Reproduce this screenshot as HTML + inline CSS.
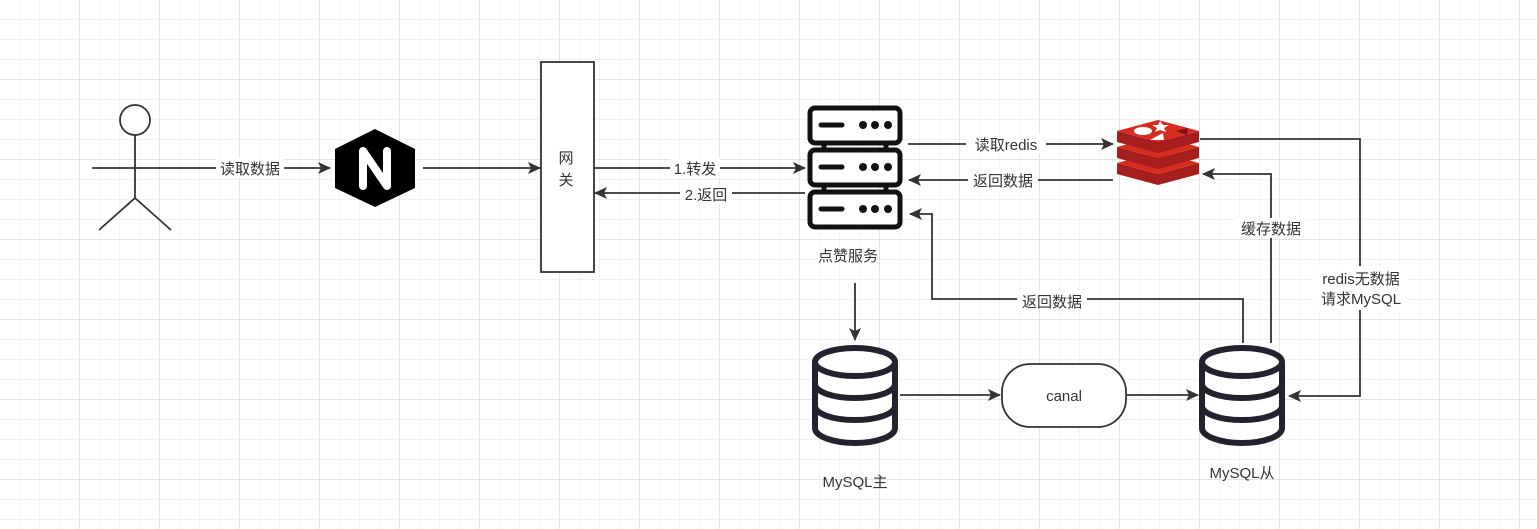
<!DOCTYPE html>
<html><head><meta charset="utf-8"><style>
html,body{margin:0;padding:0;width:1537px;height:529px;overflow:hidden;background:#fff}
svg{display:block}
text{font-family:"Liberation Sans","Noto Sans CJK SC",sans-serif;font-size:15px;fill:#333}
</style></head><body>
<svg width="1537" height="529" viewBox="0 0 1537 529">
<defs>
<pattern id="g" width="20" height="20" patternUnits="userSpaceOnUse"><path d="M20 0V20H0" fill="none" stroke="#e6e6e6" stroke-width="1"/></pattern>
<pattern id="G" width="80" height="80" patternUnits="userSpaceOnUse" x="0" y="0"><rect width="80" height="80" fill="url(#g)"/><path d="M80 0V80H0" fill="none" stroke="#dcdcdc" stroke-width="1.5"/></pattern>
<marker id="a" markerWidth="13" markerHeight="12" refX="12" refY="6" orient="auto" markerUnits="userSpaceOnUse"><path d="M0,0 L13,6 L0,12 L3,6z" fill="#333"/></marker>
</defs>
<rect width="1537" height="529" fill="url(#G)"/>
<g stroke="#333" stroke-width="1.8" fill="none">
<circle cx="135" cy="120" r="15" fill="#fff"/>
<path d="M135 135V198M92 168H180M135 198L99 230M135 198L171 230"/>
<path d="M180 168H330" marker-end="url(#a)"/>
<path d="M423 168H540" marker-end="url(#a)"/>
<rect x="541" y="62" width="53" height="210" fill="#fff"/>
<path d="M594 168H805" marker-end="url(#a)"/>
<path d="M805 193H595" marker-end="url(#a)"/>
<path d="M855 283V340" marker-end="url(#a)"/>
<path d="M908 144H1113" marker-end="url(#a)"/>
<path d="M1113 180H909" marker-end="url(#a)"/>
<path d="M1243 343V299H932V214H910" marker-end="url(#a)"/>
<path d="M1271 343V174H1203" marker-end="url(#a)"/>
<path d="M1200 139H1360V396H1289" marker-end="url(#a)"/>
<path d="M900 395H1000" marker-end="url(#a)"/>
<rect x="1002" y="364" width="124" height="63" rx="28" fill="#fff"/>
<path d="M1127 395H1198" marker-end="url(#a)"/>
</g>
<g fill="#fff">
<rect x="216" y="158" width="68" height="20"/>
<rect x="670" y="158" width="50" height="20"/>
<rect x="680" y="184" width="52" height="20"/>
<rect x="966" y="134" width="80" height="20"/>
<rect x="968" y="170" width="70" height="20"/>
<rect x="1017" y="290" width="70" height="20"/>
<rect x="1236" y="218" width="70" height="20"/>
<rect x="1314" y="266" width="94" height="44"/>
</g>
<text x="250" y="174" text-anchor="middle">读取数据</text>
<text x="695" y="174" text-anchor="middle">1.转发</text>
<text x="706" y="200" text-anchor="middle">2.返回</text>
<text x="1006" y="150" text-anchor="middle">读取redis</text>
<text x="1003" y="186" text-anchor="middle">返回数据</text>
<text x="1052" y="307" text-anchor="middle">返回数据</text>
<text x="1271" y="234" text-anchor="middle">缓存数据</text>
<text x="1361" y="284" text-anchor="middle">redis无数据</text>
<text x="1361" y="304" text-anchor="middle">请求MySQL</text>
<text x="566" y="163" text-anchor="middle">网</text>
<text x="566" y="185" text-anchor="middle">关</text>
<text x="848" y="261" text-anchor="middle">点赞服务</text>
<text x="855" y="487" text-anchor="middle" font-size="16">MySQL主</text>
<text x="1242" y="478" text-anchor="middle" font-size="16">MySQL从</text>
<text x="1064" y="401" text-anchor="middle" font-size="16">canal</text>
<polygon points="375,129 415,149 415,188 375,207 335,188 335,149" fill="#000"/>
<path d="M363 186V151L387 186V151" stroke="#fff" stroke-width="8" fill="none" stroke-linejoin="round" stroke-linecap="round"/>
<g stroke="#111" stroke-width="5" fill="#fff">
<rect x="810" y="108" width="90" height="35" rx="5"/>
<rect x="810" y="150" width="90" height="35" rx="5"/>
<rect x="810" y="192" width="90" height="35" rx="5"/>
<path d="M821 125H842M821 167H842M821 209H842" stroke-linecap="round"/>
<path d="M824 143V150M886 143V150M824 185V192M886 185V192"/>
</g>
<g fill="#111">
<circle cx="863" cy="125" r="4"/><circle cx="875" cy="125" r="4"/><circle cx="888" cy="125" r="4"/>
<circle cx="863" cy="167" r="4"/><circle cx="875" cy="167" r="4"/><circle cx="888" cy="167" r="4"/>
<circle cx="863" cy="209" r="4"/><circle cx="875" cy="209" r="4"/><circle cx="888" cy="209" r="4"/>
</g>
<g>
<path d="M1117 163V174L1158 185L1199 174V163L1158 174Z" fill="#a41e1e"/>
<path d="M1117 163L1158 152L1199 163L1158 174Z" fill="#d82c20"/>
<path d="M1117 147V158L1158 169L1199 158V147L1158 158Z" fill="#a41e1e"/>
<path d="M1117 147L1158 136L1199 147L1158 158Z" fill="#d82c20"/>
<path d="M1117 131V142L1158 153L1199 142V131L1158 142Z" fill="#a41e1e"/>
<path d="M1117 131L1158 120L1199 131L1158 142Z" fill="#d82c20"/>
<ellipse cx="1143" cy="131" rx="9" ry="4" fill="#fff"/>
<polygon points="1160,121 1163,125 1169,125 1164,128 1166,132 1160,130 1155,132 1157,128 1152,125 1158,125" fill="#fff"/>
<polygon points="1150,140 1163,133 1164,140" fill="#fff"/>
<polygon points="1176,131 1188,128 1187,135" fill="#7a1616"/>
</g>
<g stroke="#23222e" stroke-width="6" fill="#fff">
<g transform="translate(855,0)">
<path d="M-40 362V428A40 15 0 0 0 40 428V362"/>
<ellipse cx="0" cy="362" rx="40" ry="14"/>
<path d="M-40 384A40 14 0 0 0 40 384M-40 406A40 14 0 0 0 40 406" fill="none"/>
</g>
<g transform="translate(1242,0)">
<path d="M-40 362V428A40 15 0 0 0 40 428V362"/>
<ellipse cx="0" cy="362" rx="40" ry="14"/>
<path d="M-40 384A40 14 0 0 0 40 384M-40 406A40 14 0 0 0 40 406" fill="none"/>
</g>
</g>
</svg>
</body></html>
